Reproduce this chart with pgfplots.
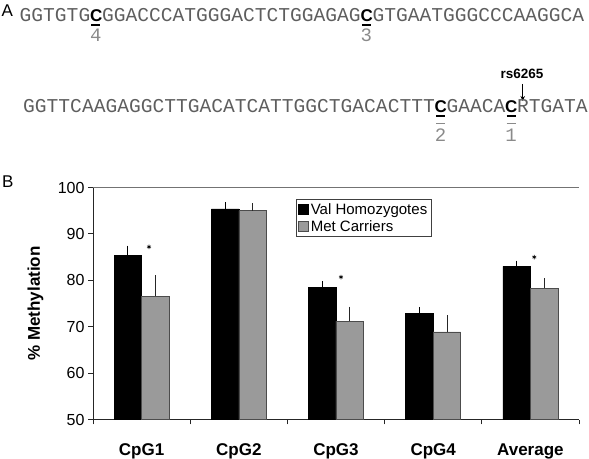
\documentclass[border=0pt]{standalone}
\usepackage{pgfplots}
\pgfplotsset{compat=1.18}
\usetikzlibrary{arrows.meta}
\usepackage{fontspec}
\setmainfont{Liberation Sans}
\newfontfamily\seqfont{Liberation Mono}
\definecolor{seqgray}{HTML}{5E5E5E}
\definecolor{numgray}{HTML}{8A8A8A}
\definecolor{bargray}{HTML}{9A9A9A}
\pgfplotsset{sqlegend/.style={legend image code/.code={\draw[##1, line width=0.5] (0bp,-5bp) rectangle (10bp,5bp);}}}
\newcommand\bc{\makebox[0.6em][c]{\normalfont\bfseries\fontsize{17bp}{20bp}\selectfont\textcolor{black}{C}}}
\begin{document}
\begin{tikzpicture}
\path[use as bounding box] (0bp,0bp) rectangle (589bp,459bp);
% ---- panel A ----
\node[anchor=base west, inner sep=0, font=\fontsize{17bp}{20bp}\selectfont] at (1.5bp,442.3bp) {A};
\node[anchor=base west, inner sep=0, font=\seqfont\fontsize{19.6bp}{22bp}\selectfont, text=seqgray] at (19.5bp,437bp)
  {GGTGTG\bc GGACCCATGGGACTCTGGAGAG\bc GTGAATGGGCCCAAGGCA};
\draw[black, line width=1.4] (91.4bp,433.8bp) -- (100.4bp,433.8bp);
\draw[black, line width=1.4] (361.9bp,433.8bp) -- (370.9bp,433.8bp);
\node[font=\seqfont\fontsize{19bp}{22bp}\selectfont, text=numgray] at (95.9bp,424bp) {4};
\node[font=\seqfont\fontsize{19bp}{22bp}\selectfont, text=numgray] at (366.4bp,424bp) {3};
\node[font=\bfseries\fontsize{13.5bp}{16bp}\selectfont] at (522bp,385bp) {rs6265};
\draw[-{Stealth[length=5bp,width=4.5bp]}, line width=0.8] (522.7bp,375bp) -- (522.7bp,358bp);
\node[anchor=base west, inner sep=0, font=\seqfont\fontsize{19.6bp}{22bp}\selectfont, text=seqgray] at (23bp,346bp)
  {GGTTCAAGAGGCTTGACATCATTGGCTGACACTTT\bc GAACA\bc RTGATA};
\draw[black, line width=1.4] (436bp,342.8bp) -- (445bp,342.8bp);
\draw[black, line width=1.4] (506.5bp,342.8bp) -- (515.5bp,342.8bp);
\draw[numgray, line width=1.4] (436bp,335.5bp) -- (445bp,335.5bp);
\draw[numgray, line width=1.4] (506.5bp,335.5bp) -- (515.5bp,335.5bp);
\node[font=\seqfont\fontsize{19bp}{22bp}\selectfont, text=numgray] at (440.5bp,324bp) {2};
\node[font=\seqfont\fontsize{19bp}{22bp}\selectfont, text=numgray] at (511.0bp,324bp) {1};
% ---- panel B ----
\node[anchor=base west, inner sep=0, font=\fontsize{17bp}{20bp}\selectfont] at (2bp,271bp) {B};
\begin{axis}[
  at={(93bp,39.5bp)}, anchor=south west, scale only axis,
  width=486bp, height=232bp,
  xmin=-0.5, xmax=4.5, ymin=50, ymax=100,
  axis x line*=bottom, axis y line*=left,
  axis line style={black!85, line width=0.9},
  every tick/.style={black!85, line width=0.9},
  tick align=outside, major tick length=5bp,
  ytick={50,60,...,100},
  xtick={-0.5,0.5,...,4.5}, xticklabels={},
  extra x ticks={0,1,2,3,4},
  extra x tick labels={CpG1,CpG2,CpG3,CpG4,Average},
  extra x tick style={major tick length=0pt,
     xticklabel style={font=\bfseries\fontsize{17bp}{20bp}\selectfont, anchor=base, yshift=-35.5bp}},
  /pgf/number format/assume math mode=true,
  yticklabel style={font=\fontsize{16bp}{19bp}\selectfont},
  ylabel={\% Methylation},
  ylabel style={font=\bfseries\fontsize{17bp}{20bp}\selectfont, at={(axis description cs:-0.1183,0.5)}, anchor=center},
  legend style={at={(axis description cs:0.4177,0.949)}, anchor=north west,
     draw=black!75, line width=0.7, font=\fontsize{15bp}{18bp}\selectfont,
     inner xsep=2bp, inner ysep=1.5bp, row sep=1bp, cells={anchor=west}},
  clip=false,
]
\draw[black!55, line width=0.8] (rel axis cs:0,1) -- (rel axis cs:1,1);
\addplot[ybar, sqlegend, bar width=27.5bp, bar shift=-13.75bp, fill=black, draw=black, line width=0.6]
  coordinates {(0,85.45) (1,95.4) (2,78.5) (3,72.9) (4,83.0)};
\addlegendentry{Val Homozygotes}
\addplot[ybar, sqlegend, bar width=27.5bp, bar shift=13.75bp, fill=bargray, draw=black!70, line width=0.6]
  coordinates {(0,76.6) (1,95.0) (2,71.2) (3,68.9) (4,78.3)};
\addlegendentry{Met Carriers}
% error bars (centred on each bar)
\addplot[draw=none, mark=none, forget plot,
  error bars/.cd, y dir=plus, y explicit,
  error bar style={black, line width=0.9},
  error mark options={black, mark size=2.6bp, line width=0.9}]
  coordinates {(-0.1415,85.45) +- (0,1.45) (0.8585,95.4) +- (0,0.9) (1.8585,78.5) +- (0,0.7) (2.8585,72.9) +- (0,0.8) (3.8585,83.0) +- (0,0.7)};
\addplot[draw=none, mark=none, forget plot,
  error bars/.cd, y dir=plus, y explicit,
  error bar style={black!85, line width=0.9},
  error mark options={black!85, mark size=2.6bp, line width=0.9}]
  coordinates {(0.1415,76.6) +- (0,3.9) (1.1415,95.0) +- (0,1.0) (2.1415,71.2) +- (0,2.55) (3.1415,68.9) +- (0,3.0) (4.1415,78.3) +- (0,1.6)};
\addplot[only marks, mark=asterisk, mark size=2.2bp, mark options={black, line width=0.6}, forget plot]
  coordinates {(0.076,87.2) (2.051,80.7) (4.04,85.0)};
\end{axis}
\end{tikzpicture}
\end{document}
